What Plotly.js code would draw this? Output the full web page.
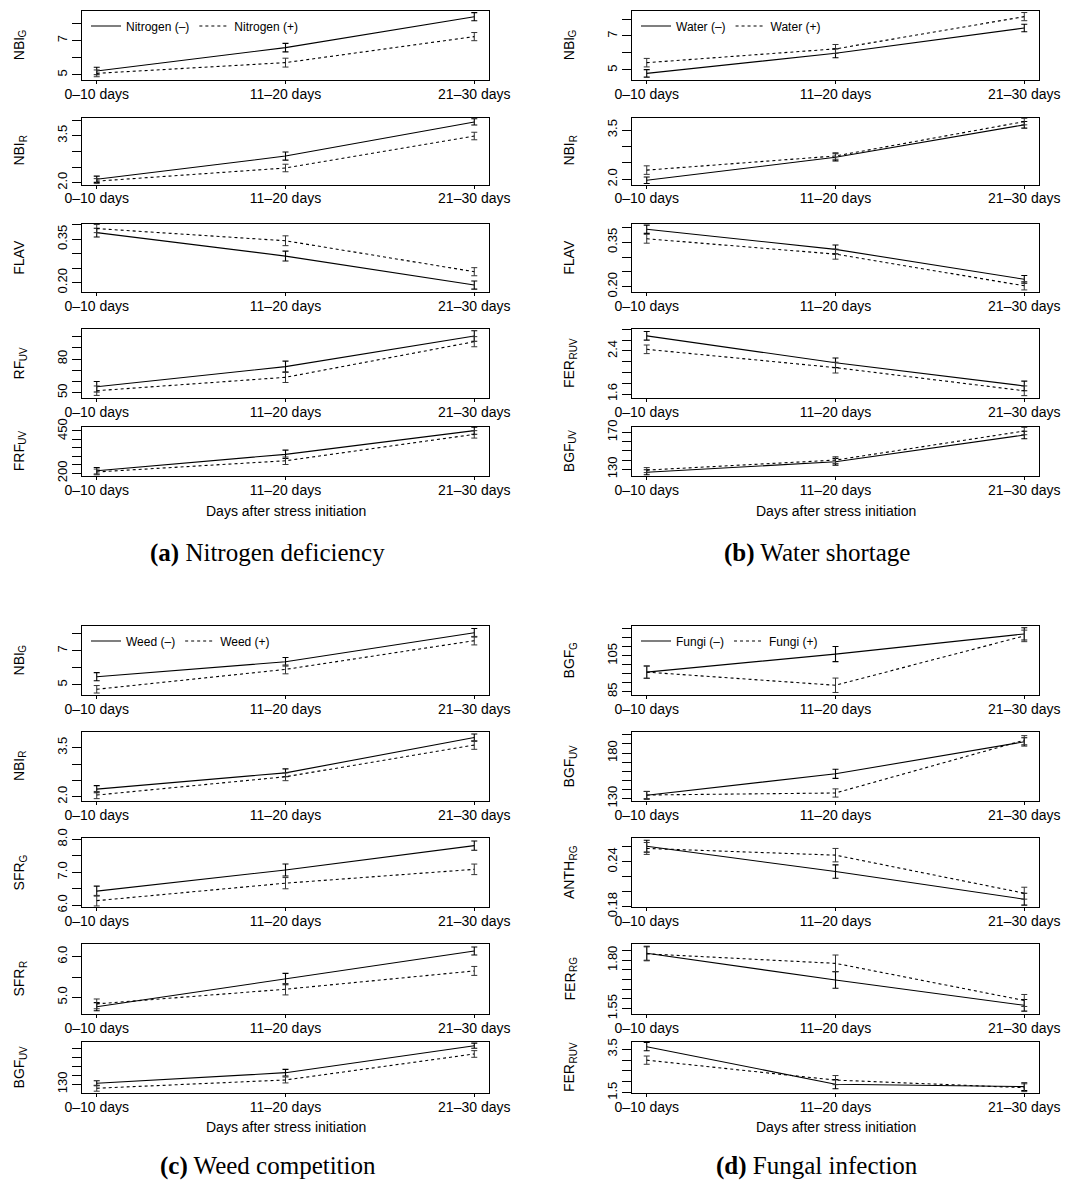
<!DOCTYPE html>
<html><head><meta charset="utf-8">
<script src="https://cdn.plot.ly/plotly-3.0.1.min.js"></script>
<style>html,body{margin:0;padding:0;background:#fff}#chart{width:1081px;height:1187px}</style>
</head><body><div id="chart"></div>
<script>
const categories = ['0–10 days', '11–20 days', '21–30 days'];

// (a) Nitrogen deficiency
const nitro_NBIG_minus = [5.22, 6.59, 8.41], nitro_NBIG_minus_err = [0.22, 0.25, 0.24];
const nitro_NBIG_plus  = [5.08, 5.71, 7.24], nitro_NBIG_plus_err  = [0.20, 0.26, 0.24];
const nitro_NBIR_minus = [2.11, 2.85, 3.94], nitro_NBIR_minus_err = [0.10, 0.13, 0.10];
const nitro_NBIR_plus  = [2.05, 2.47, 3.49], nitro_NBIR_plus_err  = [0.08, 0.12, 0.12];
const nitro_FLAV_minus = [0.373, 0.292, 0.192], nitro_FLAV_minus_err = [0.015, 0.017, 0.014];
const nitro_FLAV_plus  = [0.387, 0.345, 0.238], nitro_FLAV_plus_err  = [0.014, 0.017, 0.014];
const nitro_RFUV_minus = [55.3, 73.2, 100.5], nitro_RFUV_minus_err = [4.7, 4.9, 4.7];
const nitro_RFUV_plus  = [51.8, 63.7, 95.4], nitro_RFUV_plus_err  = [4.2, 4.6, 4.5];
const nitro_FRFUV_minus = [215, 312, 452], nitro_FRFUV_minus_err = [19, 25, 21];
const nitro_FRFUV_plus  = [208, 274, 430], nitro_FRFUV_plus_err  = [17, 22, 22];

// (b) Water shortage
const water_NBIG_minus = [4.80, 5.98, 7.47], water_NBIG_minus_err = [0.22, 0.26, 0.22];
const water_NBIG_plus  = [5.43, 6.24, 8.14], water_NBIG_plus_err  = [0.25, 0.26, 0.24];
const water_NBIR_minus = [1.97, 2.67, 3.66], water_NBIR_minus_err = [0.10, 0.11, 0.10];
const water_NBIR_plus  = [2.28, 2.71, 3.76], water_NBIR_plus_err  = [0.13, 0.10, 0.10];
const water_FLAV_minus = [0.394, 0.326, 0.225], water_FLAV_minus_err = [0.014, 0.015, 0.013];
const water_FLAV_plus  = [0.362, 0.310, 0.203], water_FLAV_plus_err  = [0.015, 0.017, 0.014];
const water_FERRUV_minus = [2.68, 2.18, 1.75], water_FERRUV_minus_err = [0.08, 0.09, 0.09];
const water_FERRUV_plus  = [2.43, 2.09, 1.66], water_FERRUV_plus_err  = [0.08, 0.10, 0.09];
const water_BGFUV_minus = [126.8, 138.2, 167.1], water_BGFUV_minus_err = [2.7, 3.6, 4.0];
const water_BGFUV_plus  = [129.2, 140.0, 171.4], water_BGFUV_plus_err  = [2.7, 3.6, 4.0];

// (c) Weed competition
const weed_NBIG_minus = [5.47, 6.35, 8.06], weed_NBIG_minus_err = [0.24, 0.25, 0.25];
const weed_NBIG_plus  = [4.73, 5.90, 7.59], weed_NBIG_plus_err  = [0.22, 0.26, 0.25];
const weed_NBIR_minus = [2.23, 2.73, 3.81], weed_NBIR_minus_err = [0.11, 0.12, 0.11];
const weed_NBIR_plus  = [2.05, 2.61, 3.58], weed_NBIR_plus_err  = [0.11, 0.12, 0.13];
const weed_SFRG_minus = [6.43, 7.07, 7.81], weed_SFRG_minus_err = [0.15, 0.18, 0.14];
const weed_SFRG_plus  = [6.14, 6.67, 7.09], weed_SFRG_plus_err  = [0.16, 0.17, 0.16];
const weed_SFRR_minus = [4.77, 5.45, 6.14], weed_SFRR_minus_err = [0.10, 0.14, 0.10];
const weed_SFRR_plus  = [4.84, 5.20, 5.65], weed_SFRR_plus_err  = [0.12, 0.14, 0.11];
const weed_BGFUV_minus = [131.1, 142.9, 172.9], weed_BGFUV_minus_err = [2.8, 3.7, 2.8];
const weed_BGFUV_plus  = [125.6, 134.8, 163.7], weed_BGFUV_plus_err  = [3.3, 3.3, 3.7];

// (d) Fungal infection
const fungi_BGFG_minus = [95.9, 105.9, 117.1], fungi_BGFG_minus_err = [3.4, 4.2, 3.4];
const fungi_BGFG_plus  = [95.9, 88.6, 116.0], fungi_BGFG_plus_err  = [3.4, 4.0, 3.2];
const fungi_BGFUV_minus = [133.6, 157.2, 192.3], fungi_BGFUV_minus_err = [4.2, 5.0, 4.5];
const fungi_BGFUV_plus  = [133.9, 136.1, 194.1], fungi_BGFUV_plus_err  = [4.0, 4.5, 5.0];
const fungi_ANTH_minus = [0.261, 0.227, 0.190], fungi_ANTH_minus_err = [0.008, 0.009, 0.008];
const fungi_ANTH_plus  = [0.258, 0.249, 0.198], fungi_ANTH_plus_err  = [0.008, 0.009, 0.008];
const fungi_FERRG_minus = [1.836, 1.698, 1.567], fungi_FERRG_minus_err = [0.036, 0.043, 0.030];
const fungi_FERRG_plus  = [1.833, 1.784, 1.592], fungi_FERRG_plus_err  = [0.036, 0.043, 0.031];
const fungi_FERRUV_minus = [3.62, 1.89, 1.78], fungi_FERRUV_minus_err = [0.19, 0.21, 0.18];
const fungi_FERRUV_plus  = [3.00, 2.08, 1.73], fungi_FERRUV_plus_err  = [0.19, 0.21, 0.18];

// y ticks: labelled values, their labels, and unlabelled (minor) tick values
const ticks_NBIG = [5, 7], labels_NBIG = ['5', '7'], minor_NBIG = [6, 8];
const ticks_NBIR = [2.0, 3.5], labels_NBIR = ['2.0', '3.5'], minor_NBIR = [2.5, 3.0, 4.0];
const ticks_FLAV = [0.20, 0.35], labels_FLAV = ['0.20', '0.35'], minor_FLAV = [0.25, 0.30, 0.40];
const ticks_RFUV = [50, 80], labels_RFUV = ['50', '80'], minor_RFUV = [60, 70, 90, 100];
const ticks_FRFUV = [200, 450], labels_FRFUV = ['200', '450'], minor_FRFUV = [250, 300, 350, 400];
const ticks_FERRUVb = [1.6, 2.4], labels_FERRUVb = ['1.6', '2.4'], minor_FERRUVb = [1.8, 2.0, 2.2, 2.6, 2.8];
const ticks_BGFUVb = [130, 170], labels_BGFUVb = ['130', '170'], minor_BGFUVb = [140, 150, 160];
const ticks_SFRG = [6.0, 7.0, 8.0], labels_SFRG = ['6.0', '7.0', '8.0'], minor_SFRG = [6.5, 7.5];
const ticks_SFRR = [5.0, 6.0], labels_SFRR = ['5.0', '6.0'], minor_SFRR = [5.5];
const ticks_BGFUVc = [130], labels_BGFUVc = ['130'], minor_BGFUVc = [140, 150, 160, 170];
const ticks_BGFG = [85, 105], labels_BGFG = ['85', '105'], minor_BGFG = [90, 95, 100, 110, 115, 120];
const ticks_BGFUVd = [130, 180], labels_BGFUVd = ['130', '180'], minor_BGFUVd = [140, 150, 160, 170, 190, 200];
const ticks_ANTH = [0.18, 0.24], labels_ANTH = ['0.18', '0.24'], minor_ANTH = [0.20, 0.22, 0.26];
const ticks_FERRG = [1.55, 1.80], labels_FERRG = ['1.55', '1.80'], minor_FERRG = [1.60, 1.65, 1.70, 1.75, 1.85];
const ticks_FERRUVd = [1.5, 3.5], labels_FERRUVd = ['1.5', '3.5'], minor_FERRUVd = [2.0, 2.5, 3.0];

const panelNames = [
  ['Nitrogen (–)', 'Nitrogen (+)'],
  ['Water (–)', 'Water (+)'],
  ['Weed (–)', 'Weed (+)'],
  ['Fungi (–)', 'Fungi (+)']
];
const captions = ['<b>(a)</b> Nitrogen deficiency', '<b>(b)</b> Water shortage',
                  '<b>(c)</b> Weed competition', '<b>(d)</b> Fungal infection'];
const xTitle = 'Days after stress initiation';

// y titles: [main, subscript]
const panels = [
  [ // a
    {t:['NBI', 'G'], m:nitro_NBIG_minus, me:nitro_NBIG_minus_err, p:nitro_NBIG_plus, pe:nitro_NBIG_plus_err, tv:ticks_NBIG, tt:labels_NBIG, mv:minor_NBIG, r:[4.688, 8.776]},
    {t:['NBI', 'R'], m:nitro_NBIR_minus, me:nitro_NBIR_minus_err, p:nitro_NBIR_plus, pe:nitro_NBIR_plus_err, tv:ticks_NBIR, tt:labels_NBIR, mv:minor_NBIR, r:[1.943, 4.081]},
    {t:['FLAV', ''], m:nitro_FLAV_minus, me:nitro_FLAV_minus_err, p:nitro_FLAV_plus, pe:nitro_FLAV_plus_err, tv:ticks_FLAV, tt:labels_FLAV, mv:minor_FLAV, r:[0.1679, 0.4046]},
    {t:['RF', 'UV'], m:nitro_RFUV_minus, me:nitro_RFUV_minus_err, p:nitro_RFUV_plus, pe:nitro_RFUV_plus_err, tv:ticks_RFUV, tt:labels_RFUV, mv:minor_RFUV, r:[45.3, 106.7]},
    {t:['FRF', 'UV'], m:nitro_FRFUV_minus, me:nitro_FRFUV_minus_err, p:nitro_FRFUV_plus, pe:nitro_FRFUV_plus_err, tv:ticks_FRFUV, tt:labels_FRFUV, mv:minor_FRFUV, r:[184, 476.4]}
  ],
  [ // b
    {t:['NBI', 'G'], m:water_NBIG_minus, me:water_NBIG_minus_err, p:water_NBIG_plus, pe:water_NBIG_plus_err, tv:ticks_NBIG, tt:labels_NBIG, mv:minor_NBIG, r:[4.41, 8.5]},
    {t:['NBI', 'R'], m:water_NBIR_minus, me:water_NBIR_minus_err, p:water_NBIR_plus, pe:water_NBIR_plus_err, tv:ticks_NBIR, tt:labels_NBIR, mv:minor_NBIR, r:[1.841, 3.884]},
    {t:['FLAV', ''], m:water_FLAV_minus, me:water_FLAV_minus_err, p:water_FLAV_plus, pe:water_FLAV_plus_err, tv:ticks_FLAV, tt:labels_FLAV, mv:minor_FLAV, r:[0.182, 0.4135]},
    {t:['FER', 'RUV'], m:water_FERRUV_minus, me:water_FERRUV_minus_err, p:water_FERRUV_plus, pe:water_FERRUV_plus_err, tv:ticks_FERRUVb, tt:labels_FERRUVb, mv:minor_FERRUVb, r:[1.526, 2.807]},
    {t:['BGF', 'UV'], m:water_BGFUV_minus, me:water_BGFUV_minus_err, p:water_BGFUV_plus, pe:water_BGFUV_plus_err, tv:ticks_BGFUVb, tt:labels_BGFUVb, mv:minor_BGFUVb, r:[122.8, 176.3]}
  ],
  [ // c
    {t:['NBI', 'G'], m:weed_NBIG_minus, me:weed_NBIG_minus_err, p:weed_NBIG_plus, pe:weed_NBIG_plus_err, tv:ticks_NBIG, tt:labels_NBIG, mv:minor_NBIG, r:[4.394, 8.453]},
    {t:['NBI', 'R'], m:weed_NBIR_minus, me:weed_NBIR_minus_err, p:weed_NBIR_plus, pe:weed_NBIR_plus_err, tv:ticks_NBIR, tt:labels_NBIR, mv:minor_NBIR, r:[1.868, 3.98]},
    {t:['SFR', 'G'], m:weed_SFRG_minus, me:weed_SFRG_minus_err, p:weed_SFRG_plus, pe:weed_SFRG_plus_err, tv:ticks_SFRG, tt:labels_SFRG, mv:minor_SFRG, r:[5.948, 8.04]},
    {t:['SFR', 'R'], m:weed_SFRR_minus, me:weed_SFRR_minus_err, p:weed_SFRR_plus, pe:weed_SFRR_plus_err, tv:ticks_SFRR, tt:labels_SFRR, mv:minor_SFRR, r:[4.591, 6.312]},
    {t:['BGF', 'UV'], m:weed_BGFUV_minus, me:weed_BGFUV_minus_err, p:weed_BGFUV_plus, pe:weed_BGFUV_plus_err, tv:ticks_BGFUVc, tt:labels_BGFUVc, mv:minor_BGFUVc, r:[120.3, 177]}
  ],
  [ // d
    {t:['BGF', 'G'], m:fungi_BGFG_minus, me:fungi_BGFG_minus_err, p:fungi_BGFG_plus, pe:fungi_BGFG_plus_err, tv:ticks_BGFG, tt:labels_BGFG, mv:minor_BGFG, r:[83.2, 121.5]},
    {t:['BGF', 'UV'], m:fungi_BGFUV_minus, me:fungi_BGFUV_minus_err, p:fungi_BGFUV_plus, pe:fungi_BGFUV_plus_err, tv:ticks_BGFUVd, tt:labels_BGFUVd, mv:minor_BGFUVd, r:[127.3, 203.1]},
    {t:['ANTH', 'RG'], m:fungi_ANTH_minus, me:fungi_ANTH_minus_err, p:fungi_ANTH_plus, pe:fungi_ANTH_plus_err, tv:ticks_ANTH, tt:labels_ANTH, mv:minor_ANTH, r:[0.1795, 0.272]},
    {t:['FER', 'RG'], m:fungi_FERRG_minus, me:fungi_FERRG_minus_err, p:fungi_FERRG_plus, pe:fungi_FERRG_plus_err, tv:ticks_FERRG, tt:labels_FERRG, mv:minor_FERRG, r:[1.522, 1.884]},
    {t:['FER', 'RUV'], m:fungi_FERRUV_minus, me:fungi_FERRUV_minus_err, p:fungi_FERRUV_plus, pe:fungi_FERRUV_plus_err, tv:ticks_FERRUVd, tt:labels_FERRUVd, mv:minor_FERRUVd, r:[1.486, 3.836]}
  ]
];

// ---- layout geometry (pixels) ----
const W = 1081, H = 1187;
const cols = [[82, 489], [632, 1039], [82, 489], [632, 1039]];
const rowsTop = [[10.5, 80], [117.5, 184.5], [223.5, 292], [329, 398], [426.5, 476]];
const rowsBot = [[626, 695], [732, 801], [838, 907], [944, 1014], [1042, 1093]];
const panelRows = [rowsTop, rowsTop, rowsBot, rowsBot];
const xTitleY = [511, 511, 1127, 1127];
const captionY = [553, 553, 1166, 1166];
const legendY = [26, 26, 641, 641];
const FONT = 'Liberation Sans, Arial, Helvetica, sans-serif';
const TITLE_SIZE = 14, SUB_SIZE = 10;

// text measuring for split main/subscript y titles
const ctx = document.createElement('canvas').getContext('2d');
function textW(str, size) { ctx.font = size + 'px "Liberation Sans"'; return ctx.measureText(str).width; }

const data = [];
const layout = {
  width: W, height: H, margin: {l: 0, r: 0, t: 0, b: 0},
  paper_bgcolor: '#fff', plot_bgcolor: '#fff',
  font: {family: FONT, color: '#000', size: 14},
  hovermode: false, annotations: []
};

let k = 0;
panels.forEach((rows, pi) => {
  const [xl, xr] = cols[pi];
  const legId = pi === 0 ? 'legend' : 'legend' + (pi + 1);
  rows.forEach((s, ri) => {
    k++;
    const [yt, yb] = panelRows[pi][ri];
    const sfx = k === 1 ? '' : String(k);
    layout['xaxis' + sfx] = {
      domain: [xl / W, xr / W], anchor: 'y' + sfx, type: 'category',
      range: [-0.078, 2.078], showline: true, mirror: true, linecolor: '#000', linewidth: 1,
      ticks: 'outside', ticklen: 3, tickwidth: 1, tickcolor: '#000', ticklabelstandoff: -2,
      tickfont: {size: 14, family: FONT, color: '#000'}, showgrid: false, zeroline: false,
      fixedrange: true
    };
    layout['yaxis' + sfx] = {
      domain: [1 - yb / H, 1 - yt / H], anchor: 'x' + sfx, range: s.r,
      tickmode: 'array', tickvals: s.tv, ticktext: s.tt, tickangle: -90,
      showline: true, mirror: true, linecolor: '#000', linewidth: 1,
      ticks: 'outside', ticklen: 9, tickwidth: 1, tickcolor: '#000',
      minor: {tickmode: 'array', tickvals: s.mv, ticks: 'outside', ticklen: 9, tickwidth: 1, tickcolor: '#000', showgrid: false},
      tickfont: {size: 13, family: FONT, color: '#000'}, showgrid: false, zeroline: false,
      fixedrange: true
    };
    const common = {x: categories, xaxis: 'x' + sfx, yaxis: 'y' + sfx, mode: 'lines', type: 'scatter', legend: legId};
    data.push(Object.assign({}, common, {
      y: s.m, name: panelNames[pi][0], showlegend: ri === 0,
      line: {color: '#000', width: 1.1},
      error_y: {type: 'data', array: s.me, visible: true, color: '#000', thickness: 1.1, width: 3}
    }));
    data.push(Object.assign({}, common, {
      y: s.p, name: panelNames[pi][1], showlegend: ri === 0,
      line: {color: '#000', width: 1.1, dash: '3px,3px'},
      error_y: {type: 'data', array: s.pe, visible: true, color: '#333', thickness: 1, width: 3}
    }));
    // y title: main part + subscript, rotated (reads bottom to top)
    const [mainT, subT] = s.t;
    const w1 = textW(mainT, TITLE_SIZE), w2 = subT ? textW(subT, SUB_SIZE) : 0;
    const yc = (yt + yb) / 2, tot = w1 + w2, xc = xl - 63;
    layout.annotations.push({
      text: mainT, textangle: -90, xref: 'paper', yref: 'paper',
      x: xc / W, y: 1 - (yc + tot / 2 - w1 / 2) / H, xanchor: 'center', yanchor: 'middle',
      showarrow: false, font: {size: TITLE_SIZE, family: FONT, color: '#000'}
    });
    if (subT) {
      layout.annotations.push({
        text: subT, textangle: -90, xref: 'paper', yref: 'paper',
        x: (xc + 4) / W, y: 1 - (yc - tot / 2 + w2 / 2) / H, xanchor: 'center', yanchor: 'middle',
        showarrow: false, font: {size: SUB_SIZE, family: FONT, color: '#000'}
      });
    }
  });
  layout[legId] = {
    orientation: 'h', x: (xl + 4) / W, y: 1 - legendY[pi] / H, xanchor: 'left', yanchor: 'middle',
    bgcolor: 'rgba(0,0,0,0)', borderwidth: 0, font: {size: 12, family: FONT, color: '#000'},
    itemclick: false, itemdoubleclick: false
  };
  layout.annotations.push({
    text: xTitle, xref: 'paper', yref: 'paper',
    x: ((xl + xr) / 2) / W, y: 1 - xTitleY[pi] / H, xanchor: 'center', yanchor: 'middle',
    showarrow: false, font: {size: 14, family: FONT, color: '#000'}
  });
  layout.annotations.push({
    text: captions[pi], xref: 'paper', yref: 'paper',
    x: ((xl + xr) / 2 - 18) / W, y: 1 - captionY[pi] / H, xanchor: 'center', yanchor: 'middle',
    showarrow: false, font: {size: 25, family: 'Liberation Serif, DejaVu Serif, serif', color: '#000'}
  });
});

Plotly.newPlot('chart', data, layout, {staticPlot: true, displayModeBar: false});
</script>
</body></html>
